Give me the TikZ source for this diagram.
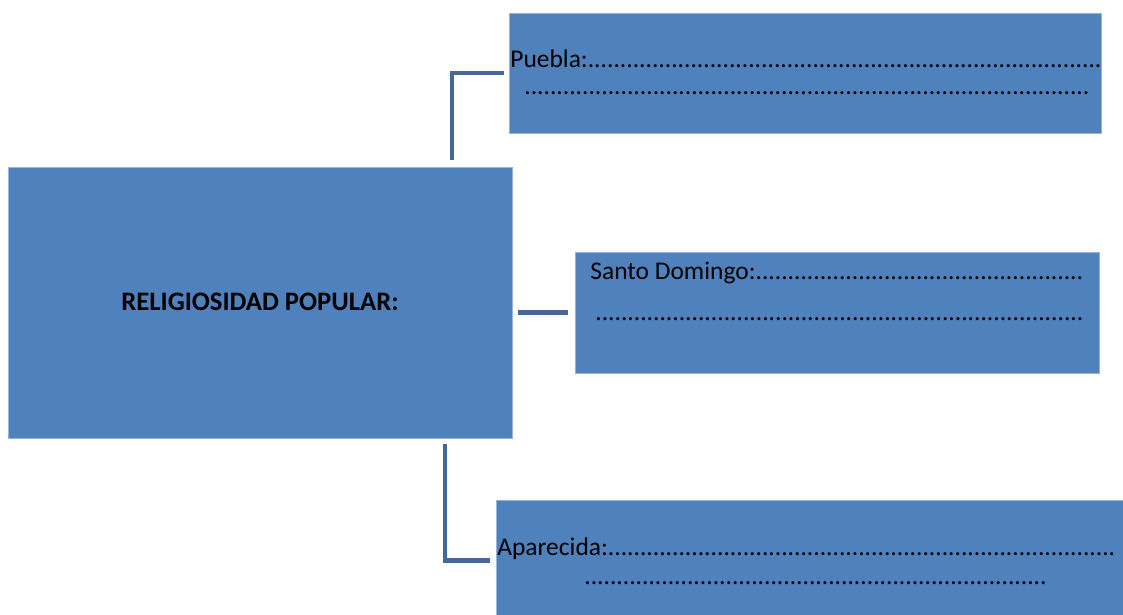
\documentclass[tikz,border=0pt]{standalone}
\usepackage{fontspec}
\setmainfont{Carlito}
\usepackage{xcolor}
\usepackage{tikz}
\usetikzlibrary{positioning}

\definecolor{cajaazul}{RGB}{79,129,189}
\definecolor{bordeazul}{RGB}{150,180,215}
\definecolor{lineaazul}{RGB}{68,104,154}

\newcommand{\puntos}[1]{\foreach \n in {1,...,#1}{.}}

\begin{document}
\begin{tikzpicture}[
    x=0.02cm,y=-0.02cm,
    caja/.style={rectangle,draw=bordeazul,line width=0.5pt,fill=cajaazul,inner sep=0pt},
    texto/.style={anchor=base west,inner sep=0pt,font=\fontsize{14.5}{17}\selectfont},
    enlace/.style={draw=lineaazul,line width=2.3pt}
]
    \clip (0,0) rectangle (1123,615);

    % Left: main box
    \node[caja,minimum width=10.08cm,minimum height=5.42cm] (main) at (260,302.5) {};
    \node[anchor=base,inner sep=0pt,font=\fontsize{15.2}{18}\selectfont\bfseries] (titulo) at (260,310) {RELIGIOSIDAD POPULAR:};

    % Right: the three boxes
    \node[caja,minimum width=11.84cm,minimum height=2.4cm] (puebla) at (805,73) {};
    \node[caja,minimum width=10.48cm,minimum height=2.42cm] (santo) at (837,312.5) {};
    \node[caja,minimum width=12.6cm,minimum height=2.42cm] (aparecida) at (811,560.5) {};

    % Texts with dotted lines
    \node[texto] (puebla1) at (510,68) {Puebla:\puntos{80}};
    \node[texto] (puebla2) at (524,95) {\puntos{88}};
    \node[texto] (santo1) at (590,279) {Santo Domingo:\puntos{51}};
    \node[texto] (santo2) at (595,320) {\puntos{76}};
    \node[texto] (aparecida1) at (497,555) {Aparecida:\puntos{79}};
    \node[texto] (aparecida2) at (584,584) {\puntos{72}};

    % Connectors
    \draw[enlace] ([shift={(-60,-7)}]main.north east) |- ([xshift=-0.1cm]puebla.west);
    \draw[enlace] ([xshift=0.12cm]main.east |- santo.west) -- ([xshift=-0.14cm]santo.west);
    \draw[enlace] ([shift={(-67,6)}]main.south east) |- ([xshift=-0.12cm]aparecida.west);
\end{tikzpicture}
\end{document}
